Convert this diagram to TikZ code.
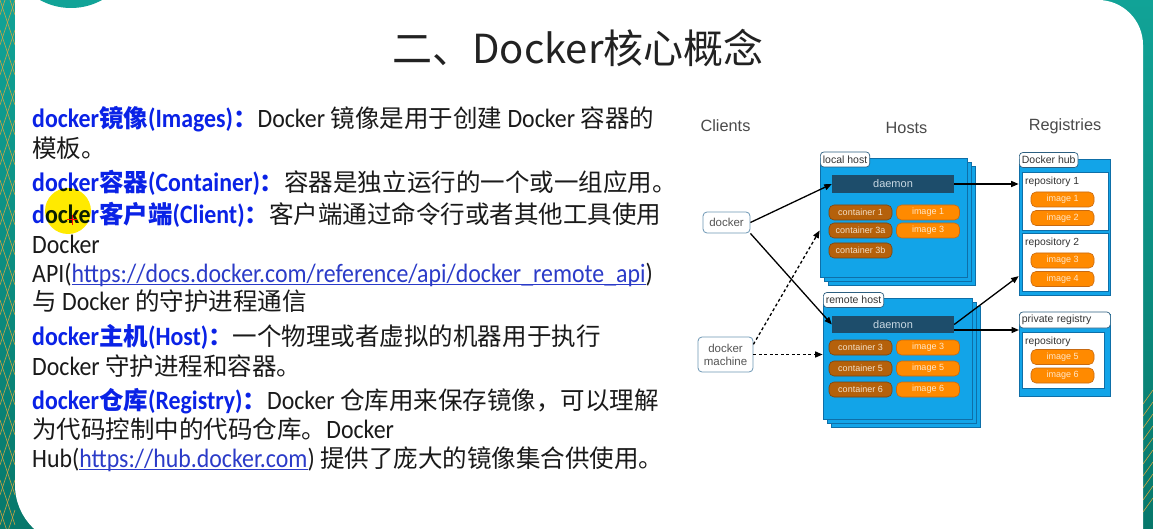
\documentclass[tikz,border=0pt]{standalone}
\usepackage{fontspec}
\setmainfont{Carlito}[FakeStretch=0.9]
\newfontfamily\cjk{Noto Sans CJK SC}[Scale=0.925]
\newfontfamily\titlefont{Noto Sans CJK SC}
\newfontfamily\diafont{Liberation Sans}
\usetikzlibrary{positioning,arrows.meta}

\definecolor{slidetealtop}{HTML}{11A397}
\definecolor{slidetealbot}{HTML}{07786B}
\definecolor{gold}{HTML}{D8A640}
\definecolor{titlegray}{HTML}{222222}
\definecolor{bodytext}{HTML}{1A1A1A}
\definecolor{keyblue}{HTML}{0A22E6}
\definecolor{linkblue}{HTML}{2B3BC8}
\definecolor{hilite}{HTML}{FFEA00}
\definecolor{hostblue}{HTML}{12A4E8}
\definecolor{hostedge}{HTML}{0E6FA8}
\definecolor{daemonblue}{HTML}{1D4D6B}
\definecolor{daemontext}{HTML}{C8D8E2}
\definecolor{contbrown}{HTML}{B5610B}
\definecolor{contedge}{HTML}{7A4410}
\definecolor{conttext}{HTML}{F3E0C8}
\definecolor{imgorange}{HTML}{FF8A00}
\definecolor{imgedge}{HTML}{C76A12}
\definecolor{imgtext}{HTML}{FFE6C8}
\definecolor{tabedge}{HTML}{2D5F80}
\definecolor{tabtext}{HTML}{333333}
\definecolor{clientedge}{HTML}{6D97B5}
\definecolor{clienttext}{HTML}{555555}
\definecolor{headgray}{HTML}{4A4A4A}

\newcommand\zh[1]{{\cjk #1}}
\newcommand\kw[1]{{\bfseries\color{keyblue}#1}}
\newcommand\lnk[1]{{\color{linkblue}\setbox0\hbox{#1}\rlap{\rule[-2.6pt]{\wd0}{0.9pt}}\box0}}

\begin{document}
\begin{tikzpicture}[x=1pt,y=-1pt,
  hostbox/.style={draw=hostedge,fill=hostblue,line width=0.7pt,inner sep=0pt},
  tabbox/.style={draw=tabedge,fill=white,rounded corners=3.5pt,line width=0.7pt,inner xsep=2.5pt,inner ysep=0pt,minimum height=15,anchor=west,text=tabtext,font=\diafont\fontsize{10.5}{10.5}\selectfont},
  daemonbar/.style={fill=daemonblue,minimum width=122,minimum height=18,inner sep=0pt,text=daemontext,font=\diafont\fontsize{11}{11}\selectfont},
  pill/.style={rounded corners=5pt,line width=0.6pt,minimum width=63,minimum height=15,inner sep=0pt,font=\diafont\fontsize{9}{9}\selectfont},
  cont/.style={pill,fill=contbrown,draw=contedge,text=conttext},
  img/.style={pill,fill=imgorange,draw=imgedge,text=imgtext},
  repobox/.style={draw=hostedge,fill=white,line width=0.6pt,inner sep=0pt},
  repolabel/.style={anchor=west,inner sep=0pt,text=tabtext,font=\diafont\fontsize{10.3}{10.3}\selectfont},
  client/.style={draw=clientedge,fill=white,rounded corners=4pt,line width=0.8pt,inner sep=0pt,align=center,text=clienttext,font=\diafont\fontsize{11.5}{13}\selectfont},
  heading/.style={text=headgray,font=\diafont\fontsize{16.3}{16.3}\selectfont},
  conn/.style={line width=1.3pt,-{Triangle[length=7.5pt,width=6pt]}},
  dconn/.style={conn,dash pattern=on 3pt off 2.5pt},
  txtline/.style={anchor=base west,inner sep=0pt,text=bodytext,font=\fontsize{26.5}{26.5}\selectfont}
]
\useasboundingbox (0,0) rectangle (1153,529);

% slide background
\shade[top color=slidetealtop,bottom color=slidetealbot] (0,0) rectangle (1153,529);
\begin{scope}
  \clip (0,0) rectangle (15,529);
  \foreach \k in {-60,-30,...,540} {
    \draw[gold,line width=0.6pt] (0,\k) -- (15,\k+45);
    \draw[gold,line width=0.6pt] (0,\k+45) -- (15,\k);
  }
\end{scope}
\begin{scope}
  \clip (1143,385) rectangle (1153,529);
  \foreach \k in {390,402,...,500} { \draw[gold,line width=0.6pt] (1143,\k+14) -- (1153,\k); }
\end{scope}
\fill[white] (15,0) -- (15,485) arc[start angle=180,end angle=90,radius=60] -- (1143,545)
  -- (1143,45) arc[start angle=360,end angle=270,radius=45] -- cycle;
\fill[slidetealtop] (71,-56) circle[radius=64];

% titel
\node[font=\titlefont\fontsize{40}{40}\selectfont,text=titlegray] (title) at (578,48) {二、Docker核心概念};

% tekst links
\node[txtline] (l1) at (32,128) {\kw{docker\zh{镜像}(Images)\zh{：}}Docker \zh{镜像是用于创建} Docker \zh{容器的}};
\node[txtline] (l2) at (32,158) {\zh{模板。}};
\node[txtline] (l3) at (32,192) {\kw{docker\zh{容器}(Container)\zh{：}}\zh{容器是独立运行的一个或一组应用。}};
\node[txtline] (l4) at (32,224) {\kw{docker\zh{客户端}(Client)\zh{：}}\zh{客户端通过命令行或者其他工具使用}};
\node[txtline] (l5) at (32,254) {Docker};
\node[txtline] (l6) at (32,282) {API(\lnk{https://docs.docker.com/reference/api/docker\_remote\_api})};
\node[txtline] (l7) at (32,310) {\zh{与} Docker \zh{的守护进程通信}};
\node[txtline] (l8) at (32,345) {\kw{docker\zh{主机}(Host)\zh{：}}\zh{一个物理或者虚拟的机器用于执行}};
\node[txtline] (l9) at (32,375) {Docker \zh{守护进程和容器。}};
\node[txtline] (l10) at (32,409) {\kw{docker\zh{仓库}(Registry)\zh{：}}Docker \zh{仓库用来保存镜像，可以理解}};
\node[txtline] (l11) at (32,438) {\zh{为代码控制中的代码仓库。}Docker};
\node[txtline] (l12) at (32,467) {Hub(\lnk{https://hub.docker.com}) \zh{提供了庞大的镜像集合供使用。}};

% cursor
\fill[hilite,blend mode=multiply] (68,211) circle[radius=23];
\draw[red,line width=1pt] (67,220) -- (77,220) (72,215) -- (72,225);

% kopjes
\node[heading] (hclients) at (725.5,126) {Clients};
\node[heading] (hhosts) at (906.5,128) {Hosts};
\node[heading] (hregs) at (1065,126) {Registries};

% local host
\foreach \d in {8,4} { \node[hostbox,minimum width=147,minimum height=119] (lhost\d) at (893.5+\d,217.5+\d) {}; }
\node[hostbox,minimum width=147,minimum height=119] (lhost) at (893.5,217.5) {};
\node[tabbox] (ltab) at (820,159.5) {local host};
\node[daemonbar] (ldaemon) at (893,184) {daemon};
\foreach \t/\y [count=\i] in {container 1/212.5,container 3a/230.5,container 3b/250.5} { \node[cont] (lc\i) at (860.5,\y) {\t}; }
\foreach \t/\y [count=\i] in {image 1/212.5,image 3/230.5} { \node[img] (li\i) at (928,\y) {\t}; }

% remote host
\foreach \d in {8,4} { \node[hostbox,minimum width=149,minimum height=121] (rhost\d) at (897.5+\d,358.5+\d) {}; }
\node[hostbox,minimum width=149,minimum height=121] (rhost) at (897.5,358.5) {};
\node[tabbox] (rtab) at (823,300) {remote host};
\node[daemonbar,minimum height=17] (rdaemon) at (893,324.5) {daemon};
\foreach \t/\y [count=\i] in {container 3/347.5,container 5/368.5,container 6/389.5} { \node[cont] (rc\i) at (860.5,\y) {\t}; }
\foreach \t/\y [count=\i] in {image 3/347.5,image 5/368.5,image 6/389.5} { \node[img] (ri\i) at (928,\y) {\t}; }

% registries
\node[hostbox,minimum width=91,minimum height=136] (hub) at (1064.5,227) {};
\node[tabbox] (hubtab) at (1019,160) {Docker hub};
\node[repobox,minimum width=86,minimum height=58] (repo1) at (1065,201) {};
\node[repobox,minimum width=86,minimum height=58] (repo2) at (1065,262) {};
\node[repolabel] (repo1lbl) at (1025,182) {repository 1};
\node[repolabel] (repo2lbl) at (1025,243) {repository 2};
\foreach \t/\y [count=\i] in {image 1/199.5,image 2/218,image 3/260.5,image 4/279} { \node[img] (hi\i) at (1062.5,\y) {\t}; }

\node[hostbox,minimum width=91,minimum height=82] (priv) at (1064.5,355) {};
\node[tabbox,text width=86,align=left,minimum height=16] (privtab) at (1019,320) {private registry};
\node[repobox,minimum width=82,minimum height=56] (prepo) at (1063,360) {};
\node[repolabel] (prepolbl) at (1025,342) {repository};
\foreach \t/\y [count=\i] in {image 5/357,image 6/375.5} { \node[img] (pi\i) at (1062.5,\y) {\t}; }

% clients
\node[client,minimum width=47,minimum height=21] (dock) at (726.5,222.5) {docker};
\node[client,minimum width=55,minimum height=35] (machine) at (725.5,354.5) {docker\\machine};

% pijlen
\coordinate (privin) at (1019,330);
\draw[conn] (dock.east) -- (ldaemon.west);
\draw[conn] (dock.south east) -- (rdaemon.west);
\draw[dconn] (machine.20) -- (lhost.190);
\draw[dconn] (machine.east) -- (machine.east -| rhost.west);
\draw[conn] (ldaemon.east) -- (ldaemon.east -| hub.west);
\draw[conn] (rdaemon.east) -- (hub.227);
\draw[conn] (privin -| rdaemon.east) -- (privin);
\end{tikzpicture}
\end{document}
